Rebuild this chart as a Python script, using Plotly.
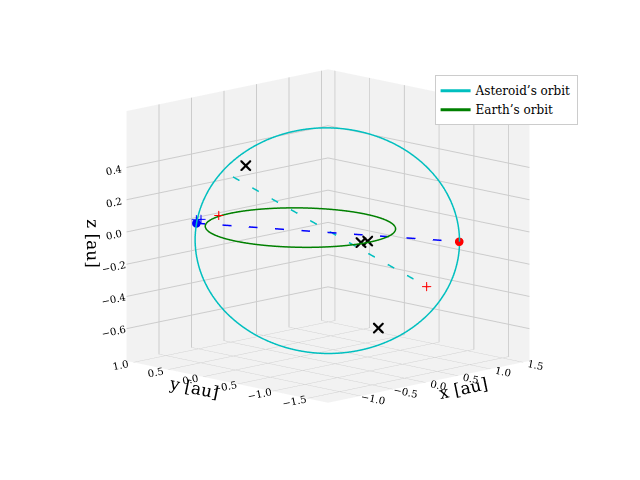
import numpy as np
import plotly.graph_objects as go

# Orbit parameters
earth_r = 1.0
ast_center = [0.2, -0.2, -0.08]
ast_rh = 1.39
ast_rz = 0.70

# points
red_dot = [1.18, -1.18, -0.08]
blue_dot = [-0.64, 0.90, 0.0]
blue_plus_x = [-0.62, -0.57]
blue_plus_y = [0.92, 0.90]
blue_plus_z = [0.02, 0.02]
red_plus_x = [-0.35, 1.18]
red_plus_y = [0.85, -0.71]
red_plus_z = [0.03, -0.40]
cyan_start = [-0.61, 0.40, 0.33]
black_x_x = [-0.51, 0.76, 0.45, 0.50]
black_x_y = [0.31, -0.41, -0.45, -0.50]
black_x_z = [0.40, -0.65, -0.09, -0.08]

t = np.linspace(0, 2*np.pi, 300)
ex = earth_r*np.cos(t); ey = earth_r*np.sin(t); ez = np.zeros_like(t)
s = 1/np.sqrt(2)
ax_ = ast_center[0] + ast_rh*np.cos(t)*s
ay_ = ast_center[1] - ast_rh*np.cos(t)*s
az_ = ast_center[2] + ast_rz*np.sin(t)

fig = go.Figure()
fig.add_trace(go.Scatter3d(x=ax_, y=ay_, z=az_, mode='lines', line=dict(color='#00bfbf', width=3), name="Asteroid’s orbit"))
fig.add_trace(go.Scatter3d(x=ex, y=ey, z=ez, mode='lines', line=dict(color='green', width=3), name="Earth’s orbit"))
fig.add_trace(go.Scatter3d(x=[blue_dot[0], red_dot[0]], y=[blue_dot[1], red_dot[1]], z=[blue_dot[2], red_dot[2]],
                           mode='lines', line=dict(color='blue', width=3, dash='longdash'), showlegend=False))
fig.add_trace(go.Scatter3d(x=[cyan_start[0], red_plus_x[1]], y=[cyan_start[1], red_plus_y[1]], z=[cyan_start[2], red_plus_z[1]],
                           mode='lines', line=dict(color='#00bfbf', width=3, dash='longdash'), showlegend=False))
fig.add_trace(go.Scatter3d(x=[red_dot[0]], y=[red_dot[1]], z=[red_dot[2]], mode='markers', marker=dict(color='red', size=5), showlegend=False))
fig.add_trace(go.Scatter3d(x=[blue_dot[0]], y=[blue_dot[1]], z=[blue_dot[2]], mode='markers', marker=dict(color='blue', size=5), showlegend=False))
fig.add_trace(go.Scatter3d(x=blue_plus_x, y=blue_plus_y, z=blue_plus_z, mode='markers', marker=dict(color='blue', size=5, symbol='cross'), showlegend=False))
fig.add_trace(go.Scatter3d(x=red_plus_x, y=red_plus_y, z=red_plus_z, mode='markers', marker=dict(color='red', size=5, symbol='cross'), showlegend=False))
fig.add_trace(go.Scatter3d(x=black_x_x, y=black_x_y, z=black_x_z, mode='markers', marker=dict(color='black', size=2.5, symbol='x'), showlegend=False))

axis_common = dict(backgroundcolor='#f2f2f2', showbackground=True, gridcolor='#cccccc', zeroline=False,
                   tickformat='.1f', color='black',
                   tickfont=dict(family='DejaVu Serif', size=11), title_font=dict(family='DejaVu Serif', size=17))
fig.update_layout(
    width=640, height=480, margin=dict(l=0, r=0, t=0, b=0), paper_bgcolor='white',
    font=dict(family='DejaVu Serif', color='black'),
    scene=dict(
        domain=dict(x=[0.0, 1.0], y=[0.05, 1.0]),
        xaxis=dict(range=[-1.5, 1.6], tickvals=[-1.0, -0.5, 0.0, 0.5, 1.0, 1.5], title='x [au]', **axis_common),
        yaxis=dict(range=[-1.8, 1.1], tickvals=[-1.5, -1.0, -0.5, 0.0, 0.5, 1.0], title='y [au]', **axis_common),
        zaxis=dict(range=[-0.8, 0.75], tickvals=[-0.6, -0.4, -0.2, 0.0, 0.2, 0.4], title='z [au]', **axis_common),
        aspectmode='manual', aspectratio=dict(x=1.25, y=1.25, z=1.12),
        camera=dict(eye=dict(x=-1.4, y=-1.4, z=0.42), center=dict(x=0, y=0, z=0),
                    projection=dict(type='orthographic')),
    ),
    legend=dict(x=0.89, y=0.86, xanchor='right', yanchor='top', bordercolor='#cccccc', borderwidth=1,
                font=dict(family='DejaVu Serif', size=12)),
)
fig.write_html("out.html")
